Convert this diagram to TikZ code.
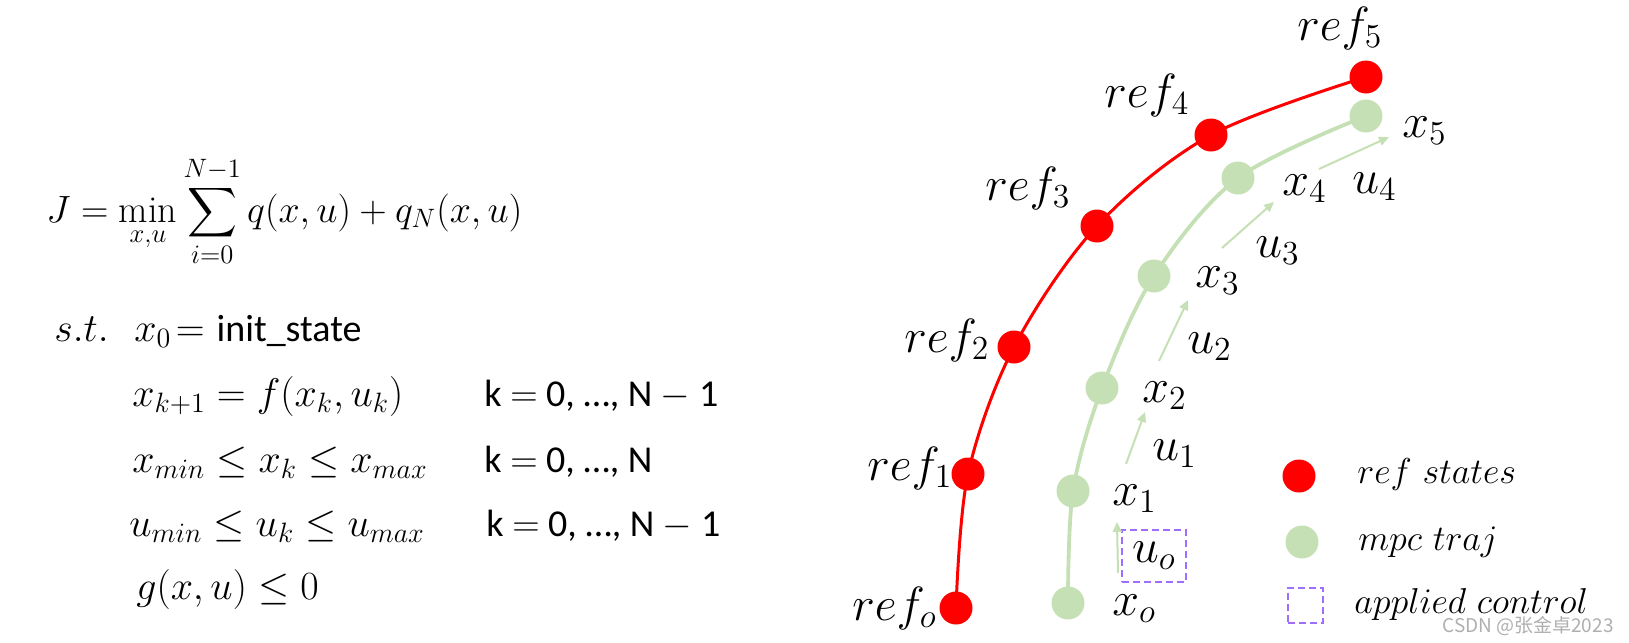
\RequirePackage{fix-cm}
\documentclass[tikz,border=0pt]{standalone}
\usepackage{amsmath}
\usepackage{fontspec}
\newfontfamily\carlito{Carlito}
\newfontfamily\cjk{Noto Sans CJK SC}
\usetikzlibrary{arrows.meta}
\definecolor{refred}{RGB}{255,0,0}
\definecolor{mpcgreen}{RGB}{197,224,180}
\definecolor{ctrlpurple}{RGB}{160,110,255}
\definecolor{wmgray}{RGB}{175,175,175}
\tikzset{
 refdot/.style={circle, fill=refred, inner sep=0pt, minimum size=16.5pt},
 mpcdot/.style={circle, fill=mpcgreen, inner sep=0pt, minimum size=16.5pt},
 lbl/.style={anchor=base west, inner sep=0pt, font=\fontsize{24}{28}\selectfont},
 frm/.style={anchor=base west, inner sep=0pt, font=\fontsize{20}{24}\selectfont},
 ktext/.style={anchor=base west, inner sep=0pt, font=\fontsize{19}{23}\selectfont\carlito},
 leg/.style={anchor=base west, inner sep=0pt, font=\fontsize{18}{22}\selectfont},
 refline/.style={draw=refred, line width=1.5pt},
 mpcline/.style={draw=mpcgreen, line width=1.9pt},
 ctrlarrow/.style={draw=mpcgreen, line width=1pt, -{Triangle[length=5pt,width=4.5pt]}},
 ctrlbox/.style={draw=ctrlpurple, line width=1.2pt, dash pattern=on 3.5pt off 2pt, inner sep=0pt},
}
\begin{document}
\begin{tikzpicture}[x=0.5pt,y=-0.5pt]
\useasboundingbox (0,0) rectangle (1629,643);
% ---------- formula ----------
\node[frm, font=\fontsize{19}{23}\selectfont] (cost) at (46,222) {$\displaystyle J=\min_{x,u}\sum_{i=0}^{N-1}q(x,u)+q_N(x,u)$};
\node[frm] (st) at (54,341) {$s.t.$};
\node[frm] (c0) at (134,341) {$x_0\!=$ {\fontsize{19}{23}\selectfont\carlito init\_state}};
\node[frm] (c1) at (132,406) {$x_{k+1}=f(x_k,u_k)$};
\node[ktext] (k1) at (484,406) {k $=$ 0, …, N $-$ 1};
\node[frm] (c2) at (132,472) {$x_{min}\le x_k\le x_{max}$};
\node[ktext] (k2) at (484,472) {k $=$ 0, …, N};
\node[frm] (c3) at (129,536) {$u_{min}\le u_k\le u_{max}$};
\node[ktext] (k3) at (486,536) {k $=$ 0, …, N $-$ 1};
\node[frm] (c4) at (136,599) {$g(x,u)\le 0$};
% ---------- trajectories ----------
\coordinate (r0) at (956,608);
\coordinate (r1) at (968,474);
\coordinate (r2) at (1014,347);
\coordinate (r3) at (1097,226);
\coordinate (r4) at (1211,135);
\coordinate (r5) at (1366,77);
\coordinate (m0) at (1068,603);
\coordinate (m1) at (1073,491);
\coordinate (m2) at (1102,388);
\coordinate (m3) at (1154,276);
\coordinate (m4) at (1238,178);
\coordinate (m5) at (1366,116);
\draw[refline] plot[smooth, tension=0.55] coordinates {(r0) (r1) (r2) (r3) (r4) (r5)};
\draw[mpcline] plot[smooth, tension=0.55] coordinates {(m0) (m1) (m2) (m3) (m4) (m5)};
\foreach \i in {0,...,5}{
  \node[refdot] (ref\i) at (r\i) {};
  \node[mpcdot] (x\i) at (m\i) {};
}
% labels
\node[lbl] (lr5) at (1297,40) {$ref_5$};
\node[lbl] (lr4) at (1104,107) {$ref_4$};
\node[lbl] (lr3) at (985,200) {$ref_3$};
\node[lbl] (lr2) at (904,352) {$ref_2$};
\node[lbl] (lr1) at (867,480) {$ref_1$};
\node[lbl] (lr0) at (852,620) {$ref_o$};
\node[lbl] (lx5) at (1402,137) {$x_5$};
\node[lbl] (lx4) at (1282,195) {$x_4$};
\node[lbl] (lx3) at (1195,287) {$x_3$};
\node[lbl] (lx2) at (1142,402) {$x_2$};
\node[lbl] (lx1) at (1112,505) {$x_1$};
\node[lbl] (lx0) at (1112,615) {$x_o$};
\node[lbl] (lu4) at (1352,193) {$u_4$};
\node[lbl] (lu3) at (1255,257) {$u_3$};
\node[lbl] (lu2) at (1187,353) {$u_2$};
\node[lbl] (lu1) at (1152,460) {$u_1$};
% applied control box with u_o
\node[ctrlbox, minimum width=32pt, minimum height=26pt, font=\fontsize{24}{28}\selectfont] (u0box) at (1154,556) {$u_o$};
% control arrows
\coordinate (a0s) at (1118,573); \coordinate (a0e) at (1117,522);
\coordinate (a1s) at (1126,464); \coordinate (a1e) at (1145,412);
\coordinate (a2s) at (1159,361); \coordinate (a2e) at (1188,300);
\coordinate (a3s) at (1222,248); \coordinate (a3e) at (1274,202);
\coordinate (a4s) at (1319,169); \coordinate (a4e) at (1389,137);
\draw[ctrlarrow] (a0s) -- (a0e);
\draw[ctrlarrow] (a1s) -- (a1e);
\draw[ctrlarrow] (a2s) -- (a2e);
\draw[ctrlarrow] (a3s) -- (a3e);
\draw[ctrlarrow] (a4s) -- (a4e);
% ---------- legend ----------
\node[refdot] (legref) at (1299,476) {};
\node[mpcdot] (legmpc) at (1302,542) {};
\node[ctrlbox, minimum width=17.5pt, minimum height=17.5pt] (legbox) at (1305.5,605.5) {};
\node[leg] (tref) at (1357,483) {$ref\ states$};
\node[leg] (tmpc) at (1358,550) {$mpc\ traj$};
\node[leg] (tctl) at (1354,613) {$applied\ control$};
% watermark
\node[anchor=base west, inner sep=0pt, text=wmgray, font=\fontsize{9.5}{11}\selectfont\cjk] (wm) at (1442,632) {CSDN @张金卓2023};
\end{tikzpicture}
\end{document}
